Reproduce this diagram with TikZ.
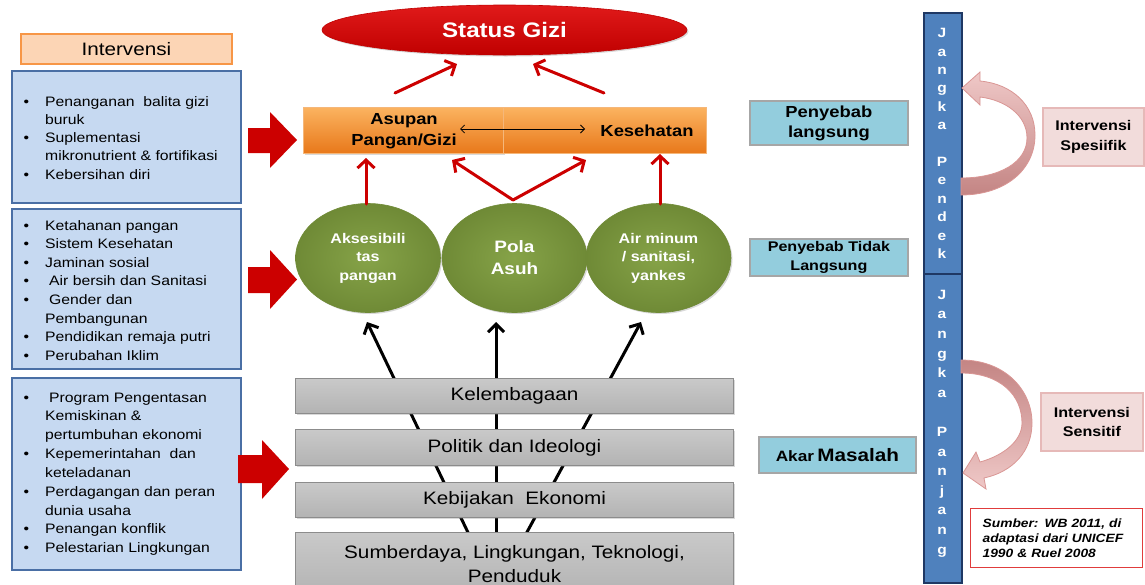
\documentclass[tikz,border=0pt]{standalone}
\usepackage{fontspec}
\setmainfont{Liberation Sans}[FakeStretch=1.15]
\usetikzlibrary{arrows.meta,shapes.geometric,shadows}
\definecolor{lightblue}{HTML}{C6D9F1}
\definecolor{boxblue}{HTML}{4A6FA5}
\definecolor{hdrfill}{HTML}{FCD5B5}
\definecolor{hdrdraw}{HTML}{F79646}
\definecolor{arrred}{HTML}{CC0000}
\definecolor{stattop}{HTML}{E01A1A}
\definecolor{statbot}{HTML}{C00000}
\definecolor{orgtop}{HTML}{FBB360}
\definecolor{orgbot}{HTML}{E8781A}
\definecolor{orgdraw}{HTML}{F5B77A}
\definecolor{greenin}{HTML}{86A348}
\definecolor{greenout}{HTML}{6F8A36}
\definecolor{greytop}{HTML}{C9C9C9}
\definecolor{greybot}{HTML}{B3B3B3}
\definecolor{greydraw}{HTML}{8C8C8C}
\definecolor{cyanfill}{HTML}{93CDDD}
\definecolor{cyandraw}{HTML}{A6A6A6}
\definecolor{barblue}{HTML}{4F81BD}
\definecolor{bardark}{HTML}{1F3864}
\definecolor{pinkfill}{HTML}{F2DCDB}
\definecolor{pinkdraw}{HTML}{E6B9B8}
\definecolor{curvelight}{HTML}{EFC8C7}
\definecolor{curvedark}{HTML}{C48584}
\definecolor{curvedraw}{HTML}{D99694}
\definecolor{srcred}{HTML}{E03C3C}
\newcommand\myfs[2]{\fontsize{#1}{#2}\selectfont}
\newcommand\bul{\makebox[21.5pt][l]{•}}
\newcommand\ind{\hspace*{21.5pt}}
\begin{document}
\begin{tikzpicture}[x=1pt,y=-1pt,
  softshadow/.style={drop shadow={shadow xshift=1.5pt,shadow yshift=-1.5pt,opacity=0.3}},
  bluebox/.style={draw=boxblue,line width=1.8pt,fill=lightblue,inner sep=0,anchor=north west,minimum width=229},
  listtext/.style={anchor=base west,inner sep=0},
  redblock/.style={fill=arrred,draw=none},
  redarrow/.style={draw=arrred,line width=3pt,line cap=round,-{Straight Barb[length=8pt,width=17pt]}},
  blackarrow/.style={draw=black,line width=3pt,-{Straight Barb[length=8pt,width=16pt]}},
  thinarrow/.style={draw=black,line width=0.8pt,{Straight Barb[length=4pt,width=8pt]}-{Straight Barb[length=4pt,width=8pt]}},
  greyboxst/.style={draw=greydraw,line width=1pt,top color=greytop,bottom color=greybot,inner sep=0,anchor=north west,minimum width=438,align=center,font=\myfs{18}{24},softshadow},
  greenell/.style={ellipse,inner sep=0,minimum width=145,minimum height=109,inner color=greenin,outer color=greenout,draw=greenout,line width=0.6pt,text=white,align=center,font=\bfseries\myfs{14}{18.5},softshadow},
  orangebox/.style={draw=orgdraw,line width=0.8pt,top color=orgtop,bottom color=orgbot,inner sep=0,anchor=north west,minimum height=46},
  cyanbox/.style={draw=cyandraw,line width=1.8pt,fill=cyanfill,inner sep=0,anchor=north west,align=center,minimum width=158},
  pinkbox/.style={draw=pinkdraw,line width=1.8pt,fill=pinkfill,inner sep=0,anchor=north west,align=center,font=\bfseries\myfs{14}{19.5}},
  barst/.style={draw=bardark,line width=1.8pt,fill=barblue,inner sep=0,anchor=north west,minimum width=38},
  bartext/.style={text=white,align=center,inner sep=0},
  curvearrow/.style={draw=curvedraw,line width=0.8pt}
]
\useasboundingbox (0,0) rectangle (1145,584);
\clip (0,0) rectangle (1145,584);

% ---------- left column ----------
\node[draw=hdrdraw,line width=1.8pt,fill=hdrfill,anchor=north west,minimum width=211,minimum height=30,inner sep=0,font=\myfs{18}{20}] (hdr) at (20,33) {Intervensi};

\node[bluebox,minimum height=132] (b1) at (11,70) {};
\node[bluebox,minimum height=160] (b2) at (11,208) {};
\node[bluebox,minimum height=192] (b3) at (11,377) {};

\node[listtext,font=\myfs{13.7}{18.3}] (t1) at (23.5,106) {\begin{tabular}[t]{@{}l@{}}
\bul Penanganan\ \ balita gizi\\
\ind buruk\\
\bul Suplementasi\\
\ind mikronutrient \& fortifikasi\\
\bul Kebersihan diri
\end{tabular}};

\node[listtext,font=\myfs{13.7}{18.6}] (t2) at (23.5,230) {\begin{tabular}[t]{@{}l@{}}
\bul Ketahanan pangan\\
\bul Sistem Kesehatan\\
\bul Jaminan sosial\\
\bul\hspace*{4pt}Air bersih dan Sanitasi\\
\bul\hspace*{4pt}Gender dan\\
\ind Pembangunan\\
\bul Pendidikan remaja putri\\
\bul Perubahan Iklim
\end{tabular}};

\node[listtext,font=\myfs{13.7}{18.85}] (t3) at (23.5,402) {\begin{tabular}[t]{@{}l@{}}
\bul\hspace*{4pt}Program Pengentasan\\
\ind Kemiskinan \&\\
\ind pertumbuhan ekonomi\\
\bul Kepemerintahan\ \ dan\\
\ind keteladanan\\
\bul Perdagangan dan peran\\
\ind dunia usaha\\
\bul Penangan konflik\\
\bul Pelestarian Lingkungan
\end{tabular}};

% red block arrows
\path[redblock] (248,128) -- (270,128) -- (270,112) -- (297,140) -- (270,168) -- (270,153) -- (248,153) -- cycle;
\path[redblock] (248,267) -- (270,267) -- (270,250) -- (297,279.5) -- (270,309) -- (270,293) -- (248,293) -- cycle;
\path[redblock] (238,455) -- (262,455) -- (262,440) -- (289,469) -- (262,499) -- (262,483) -- (238,483) -- cycle;

% ---------- centre ----------
\node[ellipse,minimum width=365,minimum height=50,inner sep=0,top color=stattop,bottom color=statbot,draw=statbot,line width=0.6pt,text=white,font=\bfseries\myfs{21}{24},softshadow] (status) at (504.5,30) {Status Gizi};

\node[orangebox,minimum width=200,softshadow] (asupanbox) at (303,107) {};
\node[orangebox,minimum width=203] (kesbox) at (503,107) {};
\node[align=center,font=\bfseries\myfs{16}{21},inner sep=0] (asupan) at (404,131) {Asupan\\Pangan/Gizi};
\node[font=\bfseries\myfs{16}{21},inner sep=0] (kes) at (647,131) {Kesehatan};
\coordinate (daL) at (460,129);
\coordinate (daR) at (585,129);
\draw[thinarrow] (daL) -- (daR);

% funnel lines (behind grey boxes)
\coordinate (f1) at (474,545);
\coordinate (f2) at (496,545);
\coordinate (f3) at (520,545);
\coordinate (e1bot) at (367,322);
\coordinate (e2bot) at (496,322);
\coordinate (e3bot) at (641,322);
\draw[blackarrow] (f1) -- (e1bot);
\draw[blackarrow] (f2) -- (e2bot);
\draw[blackarrow] (f3) -- (e3bot);

\node[greyboxst,minimum height=35] (kel) at (295,378) {Kelembagaan};
\node[greyboxst,minimum height=36] (pol) at (295,429) {Politik dan Ideologi};
\node[greyboxst,minimum height=35] (keb) at (295,482) {Kebijakan\ \ Ekonomi};
\node[greyboxst,minimum height=63] (sum) at (295,532) {Sumberdaya, Lingkungan, Teknologi,\\Penduduk};

\node[greenell] (e1) at (368,258) {Aksesibili\\tas\\pangan};
\node[greenell,font=\bfseries\myfs{16.5}{22}] (e2) at (514.5,258) {Pola\\Asuh};
\node[greenell] (e3) at (658.5,258) {Air minum\\/ sanitasi,\\yankes};

% red arrows
\coordinate (asupanUp) at (395,93);
\coordinate (statusL) at (457,64);
\coordinate (kesUp) at (604,93);
\coordinate (statusR) at (533,64);
\coordinate (e1top) at (366,204);
\coordinate (asupanLow) at (366,158);
\coordinate (e2top) at (513,200);
\coordinate (asupanMid) at (452,160);
\coordinate (kesMid) at (586,160);
\coordinate (e3top) at (660,204);
\coordinate (kesLow) at (660,154);
\draw[redarrow] (asupanUp) -- (statusL);
\draw[redarrow] (kesUp) -- (statusR);
\draw[redarrow] (e1top) -- (asupanLow);
\draw[redarrow] (e2top) -- (asupanMid);
\draw[redarrow] (e2top) -- (kesMid);
\draw[redarrow] (e3top) -- (kesLow);

% ---------- cause labels ----------
\node[cyanbox,minimum height=44,font=\bfseries\myfs{16}{20}] (langsung) at (749,100) {Penyebab\\langsung};
\node[cyanbox,minimum height=37,font=\bfseries\myfs{14}{19}] (tidak) at (749,238) {Penyebab Tidak\\Langsung};
\node[cyanbox,minimum height=36,minimum width=157,font=\bfseries] (akar) at (758,436) {{\myfs{15}{18}Akar} {\myfs{18}{20}Masalah}};

% ---------- right bars ----------
\node[barst,minimum height=261] (bar1) at (923,12) {};
\node[barst,minimum height=309] (bar2) at (923,273) {};
\node[bartext,font=\bfseries\myfs{13.5}{18.4}] (bar1t) at (942,143.5) {J\\a\\n\\g\\k\\a\\\mbox{}\\P\\e\\n\\d\\e\\k};
\node[bartext,font=\bfseries\myfs{13.5}{19.6}] (bar2t) at (942,423.5) {J\\a\\n\\g\\k\\a\\\mbox{}\\P\\a\\n\\j\\a\\n\\g};

% curved arrows
\path[curvearrow,top color=curvelight,bottom color=curvedark]
  (961,195) .. controls (1005,195) and (1035,170) .. (1035,135)
  .. controls (1035,105) and (1012,84) .. (980,81)
  -- (980,72) -- (962,88) -- (980,105) -- (980,97)
  .. controls (1005,100) and (1027,115) .. (1027,138)
  .. controls (1027,162) and (1000,178) .. (961,178) -- cycle;
\path[curvearrow,top color=curvedark,bottom color=curvelight]
  (961,360) .. controls (1005,360) and (1032,390) .. (1032,423)
  .. controls (1032,452) and (1012,472) .. (984,478)
  -- (986,489) -- (963,473) -- (976,452) -- (980,462)
  .. controls (1005,455) and (1022,440) .. (1022,423)
  .. controls (1022,395) and (1000,373) .. (961,373) -- cycle;

\node[pinkbox,minimum width=101,minimum height=58] (spes) at (1042,107) {Intervensi\\Spesiifik};
\node[pinkbox,minimum width=102,minimum height=58] (sens) at (1040,392) {Intervensi\\Sensitif};

\node[draw=srcred,line width=1.2pt,fill=white,anchor=north west,minimum width=172,minimum height=59,inner sep=0,text width=148,align=left,font=\bfseries\itshape\myfs{12}{15}] (src) at (970,508) {Sumber: WB 2011, di\\adaptasi dari UNICEF\\1990 \& Ruel 2008};
\end{tikzpicture}
\end{document}
